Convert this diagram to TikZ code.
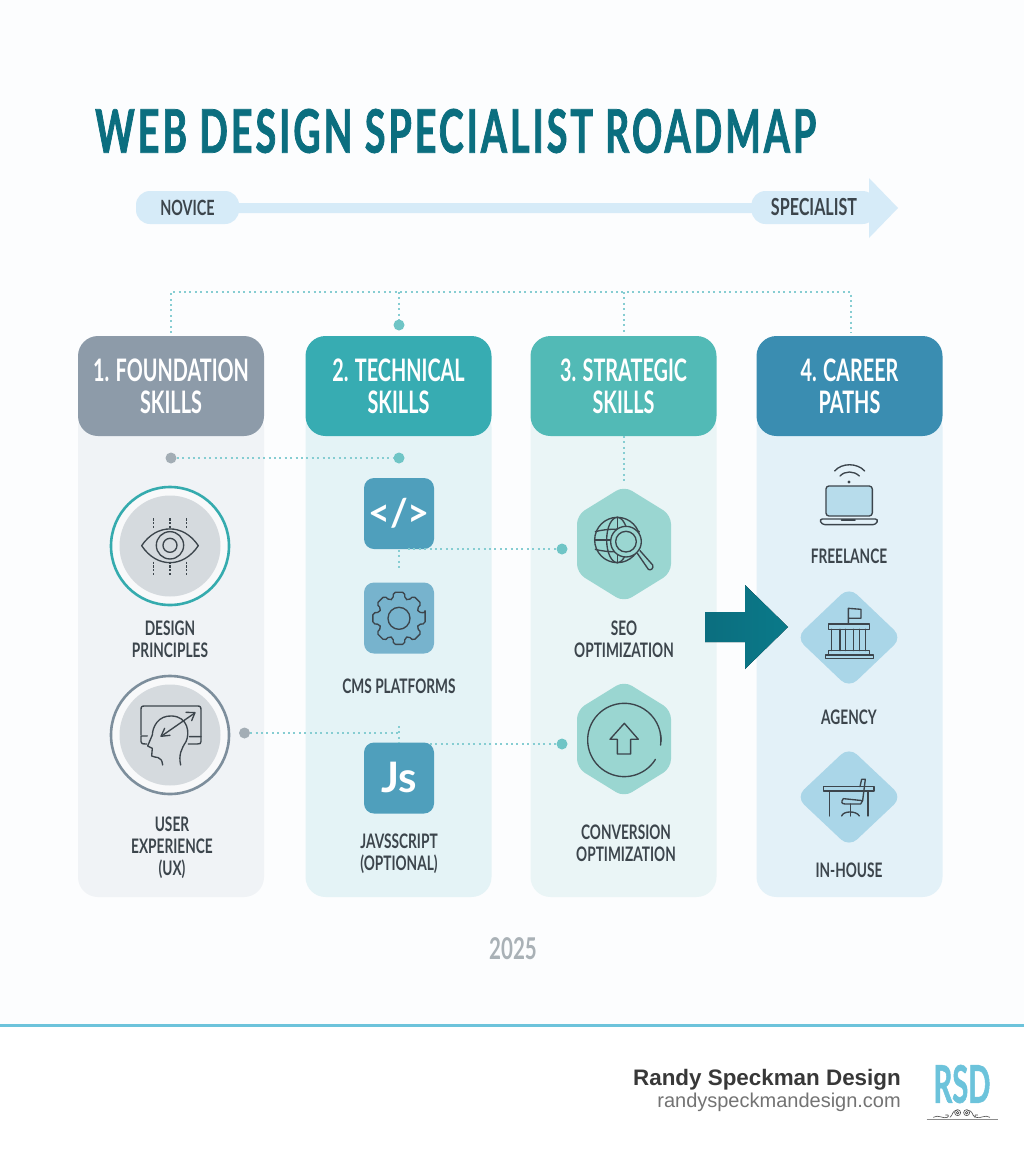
\documentclass[tikz,border=0pt]{standalone}
\usepackage{fontspec}
\setmainfont{Lato}
\newfontfamily\cond[FakeStretch=0.685]{Lato}
\newfontfamily\headf[FakeStretch=0.64]{Lato}
\newfontfamily\logof[FakeStretch=0.56,BoldFeatures={FakeBold=1}]{Lato}
\newfontfamily\titlef[FakeStretch=0.627,LetterSpace=5,BoldFeatures={FakeBold=1.2}]{Lato}
\newfontfamily\foot{Liberation Sans}
\definecolor{ink}{HTML}{3C454C}
\definecolor{dotc}{HTML}{86CDD2}
\definecolor{titlec}{HTML}{0B6E7F}
\definecolor{pale}{HTML}{D6EBF8}
\definecolor{hexc}{HTML}{9AD6D1}
\definecolor{diac}{HTML}{AAD6E8}
\definecolor{skyb}{HTML}{6CC3DB}
\definecolor{iconb}{HTML}{4F9FBC}
\definecolor{iconc}{HTML}{77B3CD}
\definecolor{disc}{HTML}{D5DADE}
\definecolor{ringa}{HTML}{35ABAE}
\definecolor{ringb}{HTML}{7D8E9C}
\definecolor{hda}{HTML}{8D9BA9}
\definecolor{hdb}{HTML}{37ACB2}
\definecolor{hdc}{HTML}{52BAB6}
\definecolor{hdd}{HTML}{3A8DB1}
\definecolor{bda}{HTML}{F0F3F6}
\definecolor{bdb}{HTML}{E4F3F6}
\definecolor{bdc}{HTML}{EAF5F6}
\definecolor{bdd}{HTML}{E3F1F8}
\definecolor{dgray}{HTML}{A3ADB5}
\definecolor{dteal}{HTML}{6FC5C6}
\definecolor{bgc}{HTML}{FCFDFE}
\definecolor{yearc}{HTML}{A9B1B6}
\tikzset{
  head/.style={rounded corners=20pt,minimum width=186pt,minimum height=100pt,inner sep=0pt,text=white,align=center,font=\headf\bfseries\fontsize{31}{32}\selectfont,execute at begin node={\rule{0pt}{25pt}}},
  body/.style={rounded corners=20pt,minimum width=186pt,minimum height=490pt,inner sep=0pt},
  lbl/.style={text=ink,align=center,inner sep=0pt,font=\cond\bfseries\fontsize{20}{22}\selectfont},
  dotline/.style={draw=dotc,line width=1.4pt,dash pattern=on 2pt off 3.4pt},
  dotn/.style={circle,fill=#1,minimum size=11pt,inner sep=0pt},
  sq/.style={rounded corners=10pt,minimum width=70pt,minimum height=71pt,inner sep=0pt,fill=#1},
  ic/.style={draw=ink,line width=1.35pt,line cap=round,line join=round},
  icf/.style={shift={(#1)},x=.3333pt,y=-.3333pt},
  pill/.style={rounded corners=14pt,fill=pale,minimum height=33pt,inner sep=0pt,text=ink,font=\cond\bfseries\fontsize{21}{22}\selectfont},
  ring/.style={circle,draw=#1,line width=2.6pt,fill=bda!50!white,minimum size=118pt,inner sep=0pt},
  flo/.style={draw=black!70,line width=.6pt},
}
\begin{document}
\begin{tikzpicture}[x=1pt,y=-1pt]
\useasboundingbox (0,0) rectangle (1024,1154);
\fill[white] (0,0) rectangle (1024,1154);
\fill[bgc] (0,0) rectangle (1024,1025);

% title
\node[anchor=west,text=titlec,inner sep=0pt,font=\titlef\bfseries\fontsize{60}{60}\selectfont] (title) at (95,131) {WEB DESIGN SPECIALIST ROADMAP};

% progress arrow
\fill[pale] (236,203) -- (869,203) -- (869,178) -- (898,208) -- (869,238) -- (869,213) -- (236,213) -- cycle;
\node[pill,minimum width=103pt] (novice) at (187.5,207.5) {NOVICE};
\node[pill,minimum width=125pt,font=\cond\bfseries\fontsize{23.5}{24}\selectfont] (specialist) at (814,207.5) {SPECIALIST};

% column bodies
\node[body,fill=bda] (b1) at (171,652) {};
\node[body,fill=bdb] (b2) at (398.5,652) {};
\node[body,fill=bdc] (b3) at (623.5,652) {};
\node[body,fill=bdd] (b4) at (849.5,652) {};

% headers
\node[head,fill=hda] (h1) at (171,386) {1. FOUNDATION\\SKILLS};
\node[head,fill=hdb] (h2) at (398.5,386) {2. TECHNICAL\\SKILLS};
\node[head,fill=hdc] (h3) at (623.5,386) {3. STRATEGIC\\SKILLS};
\node[head,fill=hdd] (h4) at (849.5,386) {4. CAREER\\PATHS};

% dotted tree
\coordinate (t1) at (171,292); \coordinate (t2) at (399,292); \coordinate (t3) at (624,292); \coordinate (t4) at (851,292);
\coordinate (e1) at (171,333); \coordinate (e3) at (624,333); \coordinate (e4) at (851,333);
\node[dotn=dteal] (dtop) at (399,325) {};
\draw[dotline] (e1) -- (t1) -- (t4) -- (e4);
\draw[dotline] (t2) -- (dtop);
\draw[dotline] (t3) -- (e3);
\coordinate (h3b) at (624,436); \coordinate (h3c) at (624,482);
\draw[dotline] (h3b) -- (h3c);

% icon nodes
\node[sq=iconb] (code) at (399,513.5) {};
\node[sq=iconc] (cms) at (399,618) {};
\node[sq=iconb] (js) at (399,778) {};
\node[text=white,inner sep=0pt,font=\bfseries\fontsize{38}{38}\selectfont] (codet) at (399,513) {</>};
\node[text=white,inner sep=0pt,font=\bfseries\fontsize{42}{42}\selectfont] (jst) at (399,777) {Js};

% connector dots
\node[dotn=dgray] (d1) at (171,458) {};
\node[dotn=dteal] (d2) at (399,458) {};
\node[dotn=dgray] (d3) at (244.5,733) {};
\node[dotn=dteal] (d4) at (562,549) {};
\node[dotn=dteal] (d5) at (562,744) {};
\coordinate (c1) at (399,733); \coordinate (c2) at (399,726); \coordinate (c3) at (399,743);
\coordinate (c4) at (399,550); \coordinate (c5) at (399,570); \coordinate (c6) at (408,549); \coordinate (c7) at (430,744);
\draw[dotline] (d1) -- (d2);
\draw[dotline] (d3) -- (c1);
\draw[dotline] (c2) -- (c3);
\draw[dotline] (c4) -- (c5);
\draw[dotline] (c6) -- (d4);
\draw[dotline] (c7) -- (d5);

% circles
\node[ring=ringa] (eye) at (170,546) {};
\fill[disc] (eye.center) circle (50.5);
\node[ring=ringb] (ux) at (170,735) {};
\fill[disc] (ux.center) circle (50.5);

% eye
\begin{scope}[icf={60,440}]
\draw[ic] (245,317) .. controls (290,250) and (370,250) .. (415,317) .. controls (370,385) and (290,385) .. (245,317) -- cycle;
\draw[ic] (330,316) circle (41); \draw[ic] (330,316) circle (21);
\foreach \x in {281,330,379}{
 \draw[ic,line cap=butt,dash pattern=on 2.2pt off 1.6pt] (\x,235) -- (\x,268);
 \draw[ic,line cap=butt,dash pattern=on 2.2pt off 1.6pt] (\x,365) -- (\x,405);}
\end{scope}
% ux
\begin{scope}[icf={60,440}]
\draw[ic] (243,885) -- (243,810) .. controls (243,800) and (245,798) .. (255,798) -- (411,798) .. controls (421,798) and (423,800) .. (423,810) -- (423,905) .. controls (423,911) and (420,912) .. (412,912) -- (385,912);
\draw[ic] (243,888) -- (262,888) (388,890) -- (423,890) (243,888) -- (243,905) .. controls (243,911) and (246,912) .. (260,912);
\draw[ic,fill=disc] (362,975) .. controls (355,945) and (365,925) .. (378,905) .. controls (390,880) and (385,830) .. (335,828) .. controls (295,826) and (278,860) .. (277,885) -- (263,918) -- (277,925) -- (275,948) .. controls (285,955) and (305,945) .. (308,975);
\draw[ic] (305,888) -- (403,820);
\draw[ic] (378,817) -- (405,818) -- (395,842);
\draw[ic] (330,886) -- (303,889) -- (314,865);
\end{scope}
% gear
\begin{scope}[icf={300,440}]
\draw[ic] (297,535) circle (33);
\begin{scope}[shift={(297,535)}]
\draw[ic,rounded corners=2pt] (-12:80)
  \foreach \a in {0,45,...,315}{
  -- (\a-12:80) -- (\a+12:80) -- (\a+17:61) -- (\a+28:61) } -- cycle;
\end{scope}
\end{scope}
% hexagons
\draw[fill=hexc,draw=none,rounded corners=9pt] (624,486) -- (671,515) -- (671,573) -- (624,602) -- (577,573) -- (577,515) -- cycle;
\draw[fill=hexc,draw=none,rounded corners=9pt] (624,681) -- (671,710) -- (671,768) -- (624,797) -- (577,768) -- (577,710) -- cycle;
% globe
\begin{scope}[icf={530,440}]
\draw[ic] (262,300) circle (68);
\draw[ic] (262,300) ellipse (32 and 68);
\draw[ic] (196,275) .. controls (230,265) and (290,265) .. (328,275);
\draw[ic] (196,328) .. controls (230,338) and (290,338) .. (328,328);
\draw[ic] (262,232) -- (262,368);
\draw[ic] (194,300) -- (330,300);
\draw[ic,fill=hexc] (288,305) circle (46);
\draw[ic] (288,305) circle (31);
\draw[ic,fill=hexc] (322,340) -- (355,388) .. controls (362,393) and (372,385) .. (368,375) -- (330,332);
\end{scope}
% conversion
\begin{scope}[icf={530,440}]
\draw[ic] (283,900) ++(32:110) arc[start angle=32,delta angle=330,radius=110];
\draw[ic] (283,900) ++(8:110) arc[start angle=8,delta angle=-18,radius=110];
\draw[ic] (283,850) -- (325,898) -- (302,898) -- (302,942) -- (262,942) -- (262,898) -- (240,898) -- cycle;
\end{scope}
% diamonds
\draw[fill=diac,draw=none,rounded corners=11pt] (849,587) -- (902,637.5) -- (849,688) -- (796,637.5) -- cycle;
\draw[fill=diac,draw=none,rounded corners=11pt] (849,747) -- (902,797) -- (849,847) -- (796,797) -- cycle;
\begin{scope}[icf={700,440}]
% laptop
\draw[ic,fill=diac!85!white,rounded corners=3pt] (378,228) -- (378,138) -- (517,138) -- (517,228) -- cycle;
\draw[ic,rounded corners=3pt] (358,237) -- (535,237) -- (528,254) -- (366,254) -- cycle;
\draw[ic,line width=2pt] (425,241) -- (465,241);
\draw[ic] (404,93) .. controls (425,68) and (472,68) .. (494,93);
\draw[ic] (420,108) .. controls (435,92) and (462,92) .. (478,108);
\fill[ink] (447,126) circle (5);
% agency
\draw[ic] (445,552) -- (445,505) -- (483,508) -- (483,535) -- (445,535);
\draw[ic] (385,552) rectangle (508,568);
\foreach \x in {395,420,437,460,478,497}{\draw[ic] (\x,568) -- (\x,632);}
\draw[ic] (385,632) rectangle (508,645);
\draw[ic] (376,645) rectangle (520,656);
% desk
\draw[ic] (370,1040) rectangle (522,1053);
\draw[ic] (388,1053) -- (388,1128) (504,1053) -- (504,1128);
\draw[ic] (480,1040) -- (485,1018) -- (496,1018) -- (488,1082) -- (430,1076) .. controls (422,1086) and (425,1092) .. (435,1092) -- (482,1092) -- (488,1082);
\draw[ic] (452,1092) -- (452,1128);
\draw[ic] (425,1128) .. controls (430,1112) and (470,1112) .. (478,1128);
\end{scope}
% big arrow
\coordinate (a0) at (705,612);
\fill[left color=titlec,right color=titlec!92!cyan] (a0) -- (745,612) -- (745,585) -- (788,627) -- (745,669) -- (745,642) -- (705,642) -- cycle;

% labels
\node[lbl] (l1) at (170,639) {DESIGN\\PRINCIPLES};
\node[lbl] (l2) at (172,847.5) {USER\\EXPERIENCE\\(UX)};
\node[lbl] (l3) at (399,686) {CMS PLATFORMS};
\node[lbl] (l4) at (399,854) {JAVSSCRIPT\\(OPTIONAL)};
\node[lbl] (l5) at (624,639) {SEO\\OPTIMIZATION};
\node[lbl] (l6) at (626,843) {CONVERSION\\OPTIMIZATION};
\node[lbl] (l7) at (849,556) {FREELANCE};
\node[lbl] (l8) at (849,717) {AGENCY};
\node[lbl] (l9) at (849,870) {IN-HOUSE};
\node[text=yearc,inner sep=0pt,font=\cond\bfseries\fontsize{30}{30}\selectfont] (year) at (513,949) {2025};

% footer
\coordinate (fl) at (0,1025); \coordinate (fr) at (1024,1025);
\draw[skyb,line width=3pt] (fl) -- (fr);
\node[anchor=base east,inner sep=0pt,text=black!78,font=\foot\bfseries\fontsize{22.4}{23}\selectfont] (f1) at (901,1085) {Randy Speckman Design};
\node[anchor=base east,inner sep=0pt,text=black!55,font=\foot\fontsize{20}{20}\selectfont] (f2) at (901,1107) {randyspeckmandesign.com};
\node[inner sep=0pt,text=skyb,font=\logof\bfseries\fontsize{52}{52}\selectfont] (rsd) at (962,1084) {RSD};
\begin{scope}[shift={(600,1040)},x=.3333pt,y=-.3333pt]
\draw[black!45,line width=.4pt] (980,238) -- (1195,238);
\draw[flo] (1000,232) .. controls (1015,222) and (1030,238) .. (1042,232) .. controls (1050,228) and (1042,220) .. (1036,225);
\draw[flo] (1170,232) .. controls (1155,222) and (1140,238) .. (1128,232) .. controls (1120,228) and (1128,220) .. (1134,225);
\draw[flo] (1050,232) .. controls (1060,225) and (1055,212) .. (1072,210);
\draw[flo] (1125,232) .. controls (1115,225) and (1120,212) .. (1102,210);
\draw[flo] (1073,218) circle (9) (1100,218) circle (9);
\draw[flo] (1073,218) circle (4) (1100,218) circle (4);
\end{scope}
\end{tikzpicture}
\end{document}
